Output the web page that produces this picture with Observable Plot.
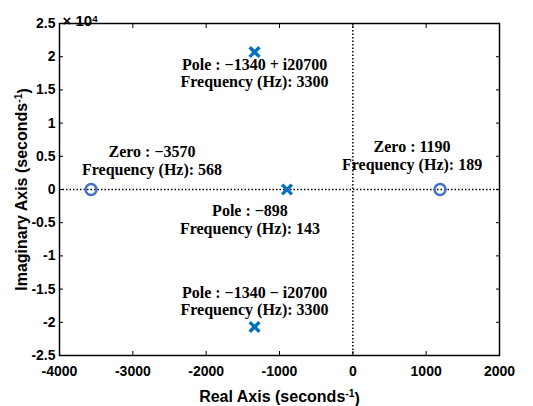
<!DOCTYPE html>
<html><head><meta charset="utf-8">
<script src="https://cdn.jsdelivr.net/npm/d3@7"></script>
<script src="https://cdn.jsdelivr.net/npm/@observablehq/plot@0.6"></script>
<style>body{margin:0;background:#fff}</style>
</head><body><div id="chart"></div>
<script>
const poleRe = [-1340, -1340, -898];
const poleIm = [20700, -20700, 0];
const poleFreq = [3300, 3300, 143];
const poleLabel = ["Pole : \u22121340 + i20700", "Pole : \u22121340 \u2212 i20700", "Pole : \u2212898"];
const zeroRe = [-3570, 1190];
const zeroIm = [0, 0];
const zeroFreq = [568, 189];
const zeroLabel = ["Zero : \u22123570", "Zero : 1190"];
const xTicks = [-4000, -3000, -2000, -1000, 0, 1000, 2000];
const yTicks = [-25000, -20000, -15000, -10000, -5000, 0, 5000, 10000, 15000, 20000, 25000];
const xTitle = "Real Axis (seconds";
const yTitle = "Imaginary Axis (seconds";
const expText = "\u00D7 10";

const poles = poleRe.map((re, i) => ({re, im: poleIm[i], text: poleLabel[i] + "\nFrequency (Hz): " + poleFreq[i]}));
const zeros = zeroRe.map((re, i) => ({re, im: zeroIm[i], text: zeroLabel[i] + "\nFrequency (Hz): " + zeroFreq[i]}));

// label offsets (pixels) relative to each marker
const poleOff = [[0, 21], [0, -26], [-37, 30]];
const zeroOff = [[61, -29], [-28, -34]];

const serif = "'Liberation Serif', 'Times New Roman', serif";
const labelMarks = [
  ...poles.map((d, i) => Plot.text([d], {x: "re", y: "im", text: "text", dx: poleOff[i][0], dy: poleOff[i][1], fontFamily: serif, fontWeight: "bold", fontSize: 16, lineHeight: 1.1, fill: "black"})),
  ...zeros.map((d, i) => Plot.text([d], {x: "re", y: "im", text: "text", dx: zeroOff[i][0], dy: zeroOff[i][1], fontFamily: serif, fontWeight: "bold", fontSize: 16, lineHeight: 1.1, fill: "black"}))
];

const chart = Plot.plot({
  width: 533, height: 406,
  marginLeft: 59, marginRight: 34, marginTop: 23, marginBottom: 51,
  style: {fontFamily: "'Liberation Sans', Arial, sans-serif", fontWeight: "bold", fontSize: "14px", color: "black", background: "white"},
  x: {domain: [-4000, 2000]},
  y: {domain: [-25000, 25000]},
  marks: [
    Plot.ruleY([0], {stroke: "black", strokeWidth: 1.5, strokeDasharray: "1.5,2"}),
    Plot.ruleX([0], {stroke: "black", strokeWidth: 1.5, strokeDasharray: "1.5,2"}),
    Plot.axisX(xTicks, {anchor: "bottom", tickSize: -4, tickPadding: 15, fontSize: 14, tickFormat: d => String(d), label: null}),
    Plot.axisX(xTicks, {anchor: "top", tickSize: -4, tickFormat: () => "", label: null}),
    Plot.axisY(yTicks, {anchor: "left", tickSize: -4, tickPadding: 8, fontSize: 14, tickFormat: d => String(d / 1e4), label: null}),
    Plot.axisY(yTicks, {anchor: "right", tickSize: -4, tickFormat: () => "", label: null}),
    Plot.frame({stroke: "black", strokeWidth: 1.5}),
    Plot.text([xTitle], {frameAnchor: "bottom", textAnchor: "middle", dy: 46, fontSize: 16, fontWeight: "bold", className: "title-x"}),
    Plot.text([yTitle], {frameAnchor: "left", textAnchor: "middle", lineAnchor: "middle", dx: -38, rotate: -90, fontSize: 16, fontWeight: "bold", className: "title-y"}),
    Plot.text([expText], {frameAnchor: "top-left", textAnchor: "start", dx: 3, dy: -8, fontSize: 15, fontWeight: "bold", className: "exp"}),
    Plot.dot(zeros, {x: "re", y: "im", symbol: "circle", r: 5.5, stroke: "#4472C4", strokeWidth: 2.5, fill: "none"}),
    Plot.dot(poles, {x: "re", y: "im", symbol: "times", r: 4.5, stroke: "#0072BD", strokeWidth: 3.4}),
    ...labelMarks
  ]
});
// add superscripts as real text tspans
function addSup(cls, sup, tail) {
  d3.select(chart).selectAll(`g.${cls} text`).each(function() {
    const t = d3.select(this);
    t.append("tspan").attr("dy", "-0.45em").attr("font-size", "0.65em").text(sup);
    if (tail) t.append("tspan").attr("dy", "0.45em").text(tail);
  });
}
addSup("title-x", "-1", ")");
addSup("title-y", "-1", ")");
addSup("exp", "4", null);
document.getElementById("chart").append(chart);
</script>
</body></html>
